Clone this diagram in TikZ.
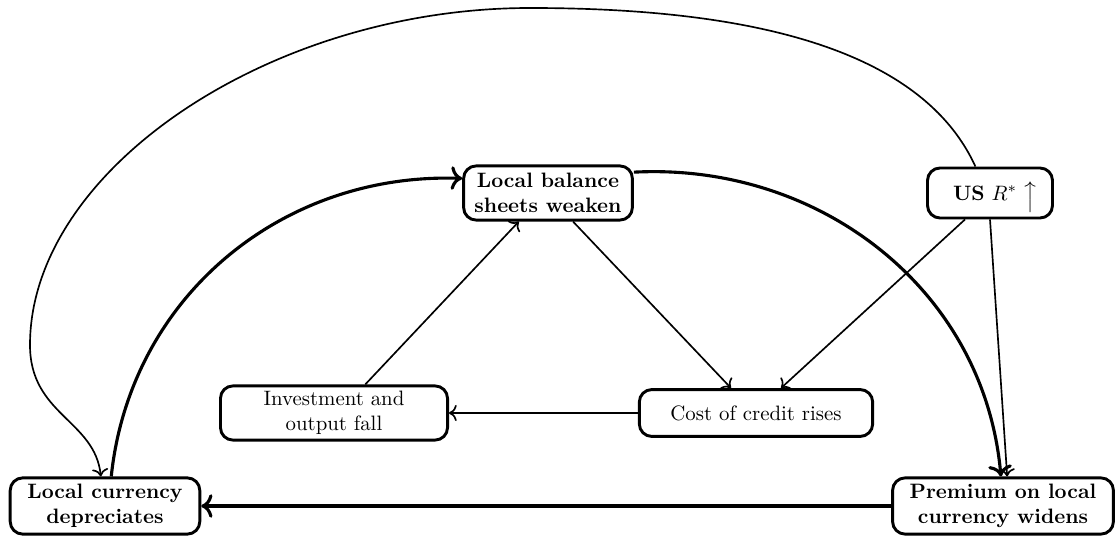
\documentclass[tikz,border=0pt]{standalone}
\usetikzlibrary{arrows.meta}
\begin{document}
\begin{tikzpicture}[x=0.48pt, y=-0.48pt, line join=round, >={To[scale=1.1]},
	box/.style={draw, line width=1.4pt, rounded corners=6pt, align=center, inner xsep=4pt, inner ysep=2pt},
	thinarr/.style={->, thick},
	thickarr/.style={->, line width=1.5pt}]
	\useasboundingbox (0,0) rectangle (1118,538);
	\node[box, font=\bfseries, minimum width=81pt, minimum height=26pt] (bal) at (548,193) {Local balance\\sheets weaken};
	\node[box, minimum width=60pt, minimum height=24pt] (usr) at (990,193) {\hspace{4pt}\textbf{US} $R^*$\hspace{5pt}\smash{\raisebox{-7pt}{\rotatebox{90}{$\longrightarrow$}}}};
	\node[box, minimum width=109pt, minimum height=26pt] (inv) at (334,413) {Investment and\\output fall};
	\node[box, minimum width=112pt, minimum height=22.5pt] (cost) at (756,413) {Cost of credit rises};
	\node[box, font=\bfseries, minimum width=91pt, minimum height=27pt] (dep) at (105,506) {Local currency\\depreciates};
	\node[box, font=\bfseries, minimum width=106pt, minimum height=27pt] (prem) at (1003,506) {Premium on local\\currency widens};
	% inner triangle
	\draw[thinarr] ([xshift=12pt]bal.south) -- ([xshift=-12pt]cost.north);
	\draw[thinarr] ([xshift=-12pt]usr.south) -- ([xshift=12pt]cost.north);
	\draw[thinarr] (cost.west) -- (inv.east);
	\draw[thinarr] ([xshift=15pt]inv.north) -- ([xshift=-14pt]bal.south);
	\draw[thinarr] (usr.south) -- ([xshift=2pt]prem.north);
	% outer loop
	\draw[thickarr] ([xshift=3pt]dep.north) to[out=84,in=178] ([yshift=7pt]bal.west);
	\draw[thickarr] ([yshift=10pt]bal.east) to[out=3,in=95] ([xshift=-1pt]prem.north);
	\draw[thickarr] (prem.west) -- (dep.east);
	\draw[thinarr] ([xshift=-7pt]usr.north) .. controls (920,45) and (740,8) .. (530,8)
		.. controls (270,8) and (30,170) .. (30,345) .. controls (30,415) and (95,420) .. ([xshift=-2pt]dep.north);
\end{tikzpicture}
\end{document}
